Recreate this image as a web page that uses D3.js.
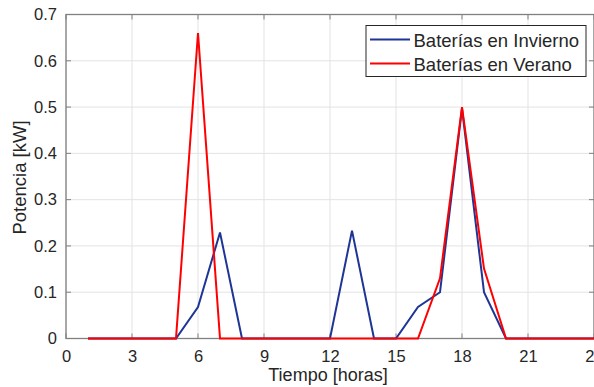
<!DOCTYPE html>
<html><head><meta charset="utf-8">
<script src="https://cdn.jsdelivr.net/npm/d3@7/dist/d3.min.js"></script>
<style>body{margin:0;background:#fff;}svg{display:block;font-family:"Liberation Sans",Arial,sans-serif;}</style>
</head><body><svg id="c" width="594" height="387"></svg>
<script>
const hours = [1,2,3,4,5,6,7,8,9,10,11,12,13,14,15,16,17,18,19,20,21,22,23,24];
const invierno = [0,0,0,0,0,0.068,0.229,0,0,0,0,0,0.233,0,0,0.068,0.1,0.497,0.1,0,0,0,0,0];
const verano = [0,0,0,0,0,0.66,0,0,0,0,0,0,0,0,0,0,0.13,0.5,0.151,0,0,0,0,0];
const xTicks = [0,3,6,9,12,15,18,21,24];
const yTicks = [0,0.1,0.2,0.3,0.4,0.5,0.6,0.7];
const seriesNames = ["Baterías en Invierno","Baterías en Verano"];
const seriesColors = ["#1f3596","#ff0000"];

const svg = d3.select("#c");
const L=66, R=594, T=14.5, B=338.5;
const x = d3.scaleLinear().domain([0,24]).range([L,R]);
const y = d3.scaleLinear().domain([0,0.7]).range([B,T]);
const axisColor="#808080", textColor="#262626";

// grid
svg.append("g").selectAll("line.gx").data(xTicks).join("line")
  .attr("x1",d=>x(d)).attr("x2",d=>x(d)).attr("y1",T).attr("y2",B)
  .attr("stroke","#e3e3e3").attr("stroke-width",1);
svg.append("g").selectAll("line.gy").data(yTicks).join("line")
  .attr("x1",L).attr("x2",R).attr("y1",d=>y(d)).attr("y2",d=>y(d))
  .attr("stroke","#e3e3e3").attr("stroke-width",1);

// axes
const xa = svg.append("g").attr("transform",`translate(0,${B})`)
  .call(d3.axisBottom(x).tickValues(xTicks).tickSize(0).tickPadding(12).tickFormat(d3.format("d")));
const ya = svg.append("g").attr("transform",`translate(${L},0)`)
  .call(d3.axisLeft(y).tickValues(yTicks).tickSize(0).tickPadding(9).tickFormat(d=>d===0?"0":d3.format(".1f")(d)));
[xa,ya].forEach(a=>{a.select(".domain").remove();a.selectAll("text").attr("fill",textColor).style("font-size","16.5px").style("font-family","Liberation Sans, Arial, sans-serif");});

// inner tick marks
const tl=5;
svg.append("g").selectAll("line").data(xTicks).join("line")
  .attr("x1",d=>x(d)).attr("x2",d=>x(d)).attr("y1",B).attr("y2",B-tl).attr("stroke",axisColor);
svg.append("g").selectAll("line").data(xTicks).join("line")
  .attr("x1",d=>x(d)).attr("x2",d=>x(d)).attr("y1",T).attr("y2",T+tl).attr("stroke",axisColor);
svg.append("g").selectAll("line").data(yTicks).join("line")
  .attr("x1",L).attr("x2",L+tl).attr("y1",d=>y(d)).attr("y2",d=>y(d)).attr("stroke",axisColor);
svg.append("g").selectAll("line").data(yTicks).join("line")
  .attr("x1",R).attr("x2",R-tl).attr("y1",d=>y(d)).attr("y2",d=>y(d)).attr("stroke",axisColor);

// box
svg.append("rect").attr("x",L).attr("y",T).attr("width",R-L).attr("height",B-T)
  .attr("fill","none").attr("stroke",axisColor).attr("stroke-width",1.3);

// lines
const line = d3.line().x((d,i)=>x(hours[i])).y(d=>y(d));
[invierno,verano].forEach((s,k)=>{
  svg.append("path").datum(s).attr("d",line).attr("fill","none")
    .attr("stroke",seriesColors[k]).attr("stroke-width",2).attr("stroke-linejoin","miter");
});

// labels
svg.append("text").attr("x",328).attr("y",381).attr("text-anchor","middle")
  .attr("fill",textColor).style("font-size","18px").text("Tiempo [horas]");
svg.append("text").attr("transform",`translate(26,${(T+B)/2+1}) rotate(-90)`).attr("text-anchor","middle")
  .attr("fill",textColor).style("font-size","18.5px").text("Potencia [kW]");

// legend
const lg = svg.append("g");
lg.append("rect").attr("x",366).attr("y",25.5).attr("width",220).attr("height",51)
  .attr("fill","#fff").attr("stroke","#262626").attr("stroke-width",1);
seriesNames.forEach((n,k)=>{
  const yy = 39.5 + k*24;
  lg.append("line").attr("x1",370).attr("x2",410).attr("y1",yy).attr("y2",yy)
    .attr("stroke",seriesColors[k]).attr("stroke-width",2);
  lg.append("text").attr("x",413.5).attr("y",yy+7).attr("fill",textColor)
    .style("font-size","18.5px").text(n);
});
</script></body></html>
